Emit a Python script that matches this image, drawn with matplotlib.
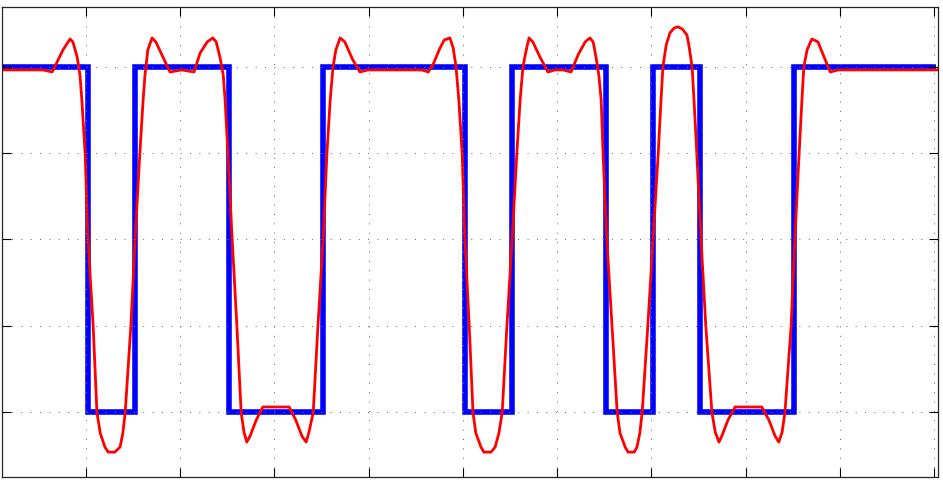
import numpy as np
import matplotlib
matplotlib.use("Agg")
from matplotlib import pyplot as plt

# transmitted symbols, one per bit period
bits = [1, 1, -1, 1, 1, -1, -1, 1, 1, 1, -1, 1, 1, -1, 1, -1, -1, 1, 1, 1]

# filtered signal (x in bit periods)
red_x = [0.16, 1.06, 1.25, 1.48, 1.63, 1.69, 1.78, 1.84, 1.88, 1.95,
         2.01, 2.12, 2.20, 2.27, 2.37, 2.44, 2.58, 2.69, 2.75, 2.80,
         2.92, 3.01, 3.11, 3.18, 3.22, 3.28, 3.37, 3.45, 3.60, 3.75,
         3.88, 4.00, 4.13, 4.26, 4.39, 4.54, 4.66, 4.73, 4.81, 4.88,
         4.92, 4.98, 5.07, 5.17, 5.26, 5.32, 5.38, 5.45, 5.58, 5.72,
         6.28, 6.42, 6.55, 6.64, 6.70, 6.79, 6.89, 7.00, 7.08, 7.15,
         7.21, 7.27, 7.36, 7.46, 7.63, 7.78, 7.95, 9.10, 9.23, 9.33,
         9.48, 9.57, 9.69, 9.76, 9.82, 9.88, 9.95, 10.01, 10.10, 10.18,
         10.24, 10.35, 10.41, 10.56, 10.65, 10.73, 10.80, 10.90, 11.01, 11.11,
         11.18, 11.24, 11.31, 11.37, 11.45, 11.60, 11.77, 11.92, 12.09, 12.26,
         12.41, 12.56, 12.66, 12.73, 12.79, 12.85, 12.90, 12.94, 13.02, 13.13,
         13.24, 13.30, 13.41, 13.47, 13.60, 13.66, 13.72, 13.77, 13.89, 14.00,
         14.11, 14.17, 14.21, 14.28, 14.36, 14.45, 14.53, 14.62, 14.72, 14.76,
         14.83, 14.87, 14.93, 15.02, 15.12, 15.25, 15.32, 15.40, 15.46, 15.59,
         15.74, 16.31, 16.46, 16.59, 16.67, 16.74, 16.80, 16.93, 17.01, 17.10,
         17.16, 17.20, 17.27, 17.37, 17.50, 17.63, 17.76, 17.93, 20.10]
red_y = [0.981, 0.981, 0.969, 1.097, 1.160, 1.143, 1.056, 0.952, 0.807, 0.495,
         0.0, -0.50, -1.00, -1.120, -1.201, -1.230, -1.230, -1.201, -1.120, -1.00,
         -0.50, 0.0, 0.495, 0.807, 0.952, 1.097, 1.166, 1.143, 1.056, 0.969,
         0.975, 0.981, 0.975, 0.969, 1.079, 1.143, 1.166, 1.143, 1.056, 0.952,
         0.807, 0.495, 0.0, -0.50, -1.00, -1.114, -1.172, -1.137, -1.045, -0.969,
         -0.969, -1.045, -1.137, -1.172, -1.114, -1.00, -0.50, 0.0, 0.495, 0.807,
         0.998, 1.097, 1.166, 1.143, 1.039, 0.969, 0.981, 0.981, 0.969, 1.010,
         1.108, 1.154, 1.166, 1.108, 0.998, 0.807, 0.495, 0.0, -0.50, -1.00,
         -1.120, -1.201, -1.230, -1.230, -1.201, -1.120, -1.00, -0.50, 0.0, 0.495,
         0.807, 0.998, 1.097, 1.166, 1.143, 1.056, 0.969, 0.981, 0.981, 0.969,
         1.068, 1.143, 1.166, 1.143, 1.056, 0.952, 0.807, 0.495, 0.0, -0.50,
         -1.00, -1.120, -1.201, -1.230, -1.230, -1.201, -1.120, -1.00, -0.50, 0.0,
         0.495, 0.807, 0.998, 1.126, 1.195, 1.224, 1.230, 1.218, 1.183, 1.126,
         0.998, 0.807, 0.495, 0.0, -0.50, -1.00, -1.114, -1.172, -1.137, -1.045,
         -0.969, -0.969, -1.045, -1.137, -1.172, -1.114, -1.00, -0.50, 0.0, 0.495,
         0.807, 0.998, 1.097, 1.160, 1.143, 1.056, 0.969, 0.981, 0.981]

W, H = 943, 482
fig = plt.figure(figsize=(W / 100, H / 100), dpi=100)
ax = fig.add_axes([1.5 / W, 5 / H, 936 / W, 470 / H])

edges = np.arange(len(bits) + 1)
ax.step(edges, bits + [bits[-1]], where='post', color='#0000ff', lw=4,
        solid_joinstyle='miter', solid_capstyle='butt')
ax.plot(red_x, red_y, color='#ff0000', lw=2)

ax.set_xlim(0.175, 20.037)
ax.set_ylim(-1.374, 1.345)
ax.set_xticks(np.arange(2, 21, 2) - 0.032)
ax.set_yticks([-1, -0.5, 0, 0.5, 1])
ax.set_xticklabels([])
ax.set_yticklabels([])
ax.tick_params(direction='in', length=6.5, width=0.8, color='black',
               top=True, right=True)
ax.set_axisbelow(False)
ax.grid(True, color='0.45', linestyle=(0, (1, 8)), linewidth=0.75)
for s in ax.spines.values():
    s.set_color('0.15')
    s.set_linewidth(0.9)

plt.savefig('out.png', dpi=100)
